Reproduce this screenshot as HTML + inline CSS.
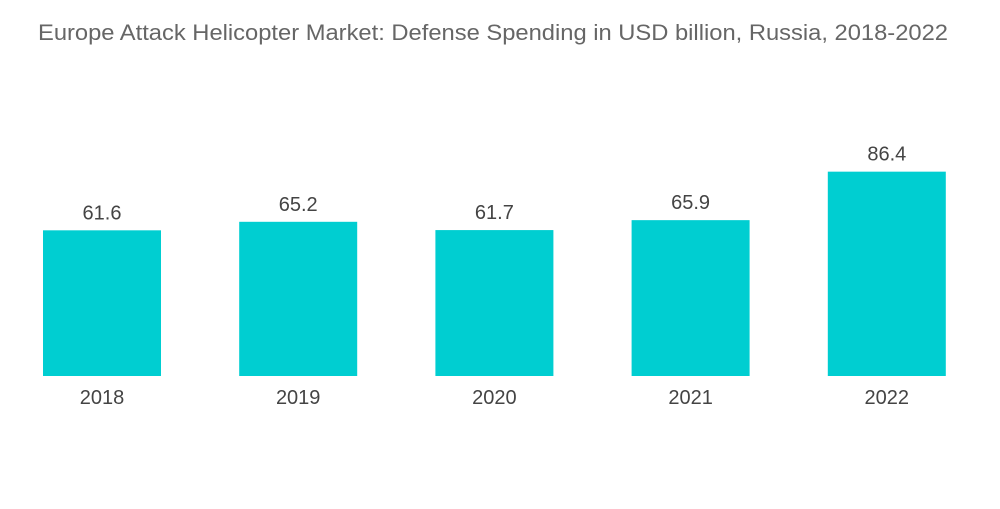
<!DOCTYPE html>
<html><head><meta charset="utf-8"><style>
body{margin:0;background:#fff;}
svg text{font-family:"Liberation Sans",sans-serif;}
</style></head><body>
<svg id="chart" width="1000" height="504">
<text x="38" y="40" font-size="22.5" fill="#666" textLength="910" lengthAdjust="spacingAndGlyphs">Europe Attack Helicopter Market: Defense Spending in USD billion, Russia, 2018-2022</text>
<g id="bars"></g>
</svg>
<script>
const categories=["2018","2019","2020","2021","2022"];
const values=[61.6,65.2,61.7,65.9,86.4];
const labels=["61.6","65.2","61.7","65.9","86.4"];
const base=376, scale=2.365, barW=118, x0=43, step=196.2;
function y(v){return base-v*scale;}
function x(i){return x0+i*step;}
const g=document.getElementById('bars');
const ns="http://www.w3.org/2000/svg";
categories.forEach((c,i)=>{
  const r=document.createElementNS(ns,'rect');
  r.setAttribute('x',x(i));r.setAttribute('y',y(values[i]));
  r.setAttribute('width',barW);r.setAttribute('height',base-y(values[i]));
  r.setAttribute('fill','#00CED1');
  
  
  g.appendChild(r);
  const t=document.createElementNS(ns,'text');
  t.setAttribute('x',x(i)+barW/2);t.setAttribute('y',y(values[i])-11);
  t.setAttribute('text-anchor','middle');t.setAttribute('font-size','20');t.setAttribute('fill','#444');
  t.textContent=labels[i];
  
  
  g.appendChild(t);
  const a=document.createElementNS(ns,'text');
  a.setAttribute('x',x(i)+barW/2);a.setAttribute('y',404);
  a.setAttribute('text-anchor','middle');a.setAttribute('font-size','20');a.setAttribute('fill','#444');
  a.textContent=c;
  
  
  g.appendChild(a);
});
</script>
</body></html>
